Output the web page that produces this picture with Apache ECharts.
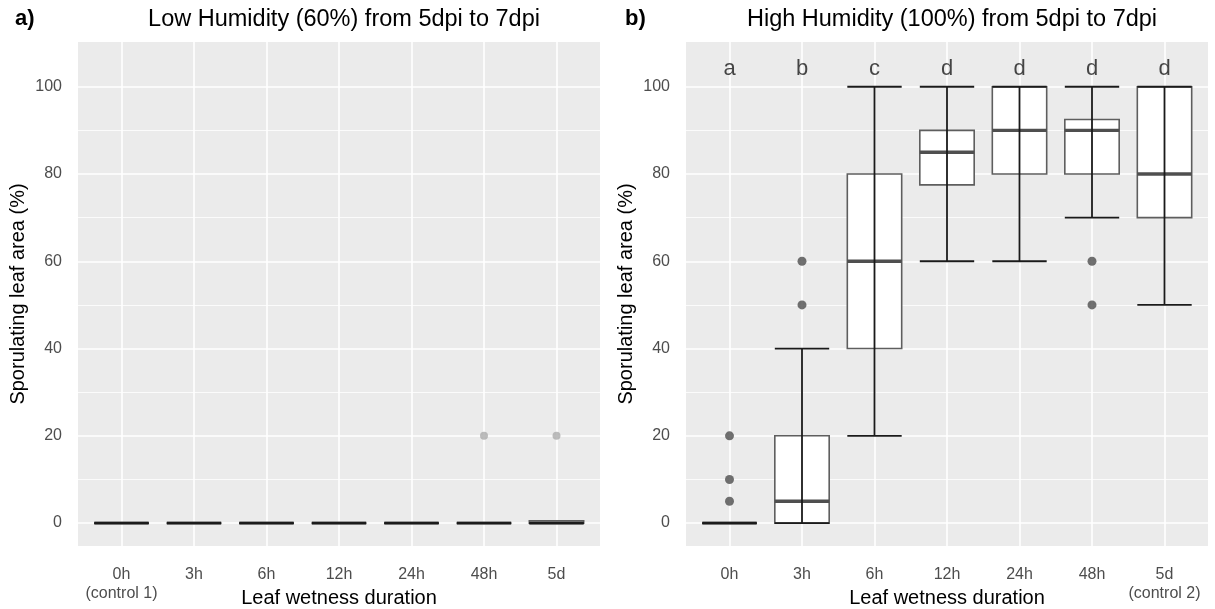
<!DOCTYPE html>
<html>
<head>
<meta charset="utf-8">
<script src="https://cdn.jsdelivr.net/npm/echarts@6/dist/echarts.min.js"></script>
<style>
  html, body { margin: 0; padding: 0; background: #fff; }
  #chart { width: 1215px; height: 609px; }
</style>
</head>
<body>
<div id="chart"></div>
<script>
// categories
const categories = ['0h', '3h', '6h', '12h', '24h', '48h', '5d'];
const yTicks = [0, 20, 40, 60, 80, 100];
const yMinorTicks = [10, 30, 50, 70, 90];

// a) low humidity - boxplot stats
const loA = [0, 0, 0, 0, 0, 0, 0];
const q1A = [0, 0, 0, 0, 0, 0, 0];
const medA = [0, 0, 0, 0, 0, 0, 0];
const q3A = [0, 0, 0, 0, 0, 0, 0.5];
const hiA = [0, 0, 0, 0, 0, 0, 0];
const outA = [[5, 20], [6, 20]];

// b) high humidity - boxplot stats
const loB = [0, 0, 20, 60, 60, 70, 50];
const q1B = [0, 0, 40, 77.5, 80, 80, 70];
const medB = [0, 5, 60, 85, 90, 90, 80];
const q3B = [0, 20, 80, 90, 100, 92.5, 100];
const hiB = [0, 40, 100, 100, 100, 100, 100];
const outB = [[0, 5], [0, 10], [0, 20], [1, 50], [1, 60], [5, 50], [5, 60]];
const lettersB = ['a', 'b', 'c', 'd', 'd', 'd', 'd'];
const letterY = 104;

const FONT = 'Liberation Sans, Arial, sans-serif';

function rows(lo, q1, med, q3, hi) {
    return categories.map((c, i) => [i, lo[i], q1[i], med[i], q3[i], hi[i]]);
}

function renderBox(params, api) {
    const i = api.value(0);
    const half = api.size([0.75, 0])[0] / 2;
    const pLo = api.coord([i, api.value(1)]);
    const pQ1 = api.coord([i, api.value(2)]);
    const pMed = api.coord([i, api.value(3)]);
    const pQ3 = api.coord([i, api.value(4)]);
    const pHi = api.coord([i, api.value(5)]);
    const cx = pMed[0];
    const children = [];
    if (pQ1[1] - pQ3[1] > 0.1) {
        children.push({
            type: 'rect',
            shape: { x: cx - half, y: pQ3[1], width: half * 2, height: pQ1[1] - pQ3[1] },
            style: { fill: '#ffffff', stroke: '#5e5e5e', lineWidth: 1.6 }
        });
    }
    children.push({
        type: 'line',
        shape: { x1: cx - half, y1: pMed[1], x2: cx + half, y2: pMed[1] },
        style: { stroke: '#4f4f4f', lineWidth: 3.4 }
    });
    const whisker = { stroke: '#1a1a1a', lineWidth: 1.8 };
    children.push({ type: 'line', shape: { x1: cx, y1: pLo[1], x2: cx, y2: pHi[1] }, style: whisker });
    children.push({ type: 'line', shape: { x1: cx - half, y1: pLo[1], x2: cx + half, y2: pLo[1] }, style: whisker });
    children.push({ type: 'line', shape: { x1: cx - half, y1: pHi[1], x2: cx + half, y2: pHi[1] }, style: whisker });
    return { type: 'group', children: children };
}

function xAxisFor(idx, labels) {
    return {
        type: 'value', gridIndex: idx, min: -0.6, max: 6.6,
        axisLine: { show: false },
        axisTick: { show: false, customValues: [0, 1, 2, 3, 4, 5, 6] },
        axisLabel: {
            customValues: [0, 1, 2, 3, 4, 5, 6],
            formatter: v => labels[Math.round(v)],
            color: '#4d4d4d', fontSize: 16, fontFamily: FONT, margin: 19, lineHeight: 19
        },
        splitLine: { show: true, lineStyle: { color: '#ffffff', width: 1.6 } },
        name: 'Leaf wetness duration', nameLocation: 'middle', nameGap: 42, nameMoveOverlap: false,
        nameTextStyle: { fontSize: 20, color: '#000', fontFamily: FONT, verticalAlign: 'top' }
    };
}

function yAxesFor(idx) {
    return [{
        type: 'value', gridIndex: idx, min: -5.25, max: 110.25,
        axisLine: { show: false },
        axisTick: { show: false, customValues: yTicks },
        axisLabel: { customValues: yTicks, color: '#4d4d4d', fontSize: 16, fontFamily: FONT, margin: 16 },
        splitLine: { show: true, lineStyle: { color: '#ffffff', width: 1.6 } },
        name: 'Sporulating leaf area (%)', nameLocation: 'middle', nameGap: 50, nameMoveOverlap: false,
        nameTextStyle: { fontSize: 20, color: '#000', fontFamily: FONT }
    }, {
        type: 'value', gridIndex: idx, min: -5.25, max: 110.25,
        axisLine: { show: false },
        axisTick: { show: false, customValues: yMinorTicks },
        axisLabel: { show: false, customValues: yMinorTicks },
        splitLine: { show: true, lineStyle: { color: '#ffffff', width: 0.8 } }
    }];
}

const labelsA = categories.map(c => c === '0h' ? '0h\n(control 1)' : c);
const labelsB = categories.map(c => c === '5d' ? '5d\n(control 2)' : c);

const chart = echarts.init(document.getElementById('chart'), null, { renderer: 'canvas' });
chart.setOption({
    animation: false,
    backgroundColor: '#ffffff',
    title: [
        { text: 'a)', left: 10, top: 3, textStyle: { fontSize: 22, fontWeight: 'bold', color: '#000', fontFamily: FONT } },
        { text: 'Low Humidity (60%) from 5dpi to 7dpi', left: 339, top: 3, textAlign: 'center',
          textStyle: { fontSize: 23.5, fontWeight: 'normal', color: '#000', fontFamily: FONT } },
        { text: 'b)', left: 620, top: 3, textStyle: { fontSize: 22, fontWeight: 'bold', color: '#000', fontFamily: FONT } },
        { text: 'High Humidity (100%) from 5dpi to 7dpi', left: 947, top: 3, textAlign: 'center',
          textStyle: { fontSize: 23.5, fontWeight: 'normal', color: '#000', fontFamily: FONT } }
    ],
    grid: [
        { left: 78, right: 615, top: 42, bottom: 63, show: true, backgroundColor: '#ebebeb', borderWidth: 0, outerBoundsMode: 'none' },
        { left: 686, right: 7, top: 42, bottom: 63, show: true, backgroundColor: '#ebebeb', borderWidth: 0, outerBoundsMode: 'none' }
    ],
    xAxis: [xAxisFor(0, labelsA), xAxisFor(1, labelsB)],
    yAxis: yAxesFor(0).concat(yAxesFor(1)),
    series: [
        {
            type: 'custom', xAxisIndex: 0, yAxisIndex: 0,
            renderItem: renderBox, encode: { x: 0, y: [1, 5] },
            data: rows(loA, q1A, medA, q3A, hiA), z: 3
        },
        {
            type: 'scatter', xAxisIndex: 0, yAxisIndex: 0, symbolSize: 8,
            itemStyle: { color: '#ababab' }, data: outA, z: 4
        },
        {
            type: 'custom', xAxisIndex: 1, yAxisIndex: 2,
            renderItem: renderBox, encode: { x: 0, y: [1, 5] },
            data: rows(loB, q1B, medB, q3B, hiB), z: 3
        },
        {
            type: 'scatter', xAxisIndex: 1, yAxisIndex: 2, symbolSize: 9,
            itemStyle: { color: '#4d4d4d' }, data: outB, z: 4
        },
        {
            type: 'scatter', xAxisIndex: 1, yAxisIndex: 2, symbolSize: 0,
            data: lettersB.map((l, i) => [i, letterY]),
            label: {
                show: true, position: 'inside', formatter: p => lettersB[p.dataIndex],
                fontSize: 22, color: '#1a1a1a', fontFamily: FONT
            },
            z: 5
        }
    ]
});
</script>
</body>
</html>
